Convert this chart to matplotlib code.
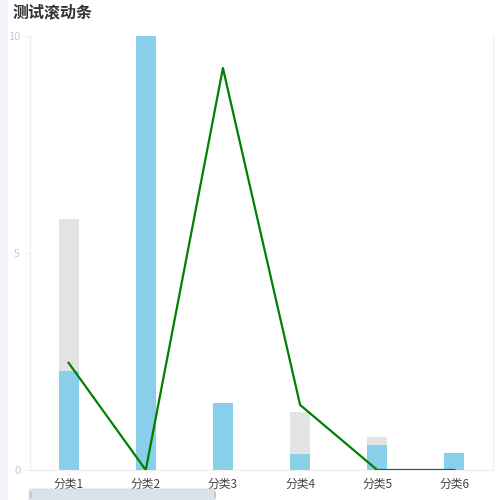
import matplotlib
matplotlib.use("Agg")
import matplotlib.pyplot as plt
from matplotlib.patches import FancyBboxPatch, Rectangle

plt.rcParams['font.family'] = ['Noto Sans CJK SC', 'DejaVu Sans']

title = "测试滚动条"
categories = ["分类1", "分类2", "分类3", "分类4", "分类5", "分类6"]
back_values = [5.78, 10, 1.54, 1.34, 0.76, 0.39]   # gray bars behind
bar_values = [2.28, 10, 1.54, 0.37, 0.58, 0.39]    # blue bars
line_values = [2.47, 0, 9.26, 1.5, 0, 0]           # green line
y_ticks = [0, 5, 10]

W, H = 500, 500
fig = plt.figure(figsize=(5, 5), dpi=100)
fig.patch.set_facecolor("#f3f4f9")

# white card
card = FancyBboxPatch((8 / W, -0.05), 1.1, 1.1, boxstyle="round,pad=0,rounding_size=0.015",
                      transform=fig.transFigure, facecolor="white", edgecolor="none", zorder=0)
fig.add_artist(card)

ax = fig.add_axes([30 / W, 30 / H, 463 / W, 434 / H])
ax.set_facecolor("none")

x = list(range(len(categories)))
ax.bar(x, back_values, width=0.26, color="#e3e3e3", zorder=2)
ax.bar(x, bar_values, width=0.26, color="#89cfeb", zorder=3)
ax.plot(x, line_values, color="#008000", linewidth=1.6, zorder=4)

ax.set_xlim(-0.5, len(categories) - 0.5)
ax.set_ylim(0, 10)
ax.set_yticks(y_ticks)
ax.set_yticklabels([str(t) for t in y_ticks], fontsize=8, color="#c8c8c8")
ax.set_xticks(x)
ax.set_xticklabels(categories, fontsize=8.5, color="#444444")
ax.tick_params(axis="y", length=4, width=0.8, color="#f0f0f0", pad=3)
ax.tick_params(axis="x", length=4, width=0.8, color="#f0f0f0", pad=2)

for side in ["left", "bottom", "right"]:
    ax.spines[side].set_color("#f0f0f0")
    ax.spines[side].set_linewidth(1)
ax.spines["top"].set_visible(False)

fig.text(13 / W, 1 - 12 / H, title, fontsize=11.5, fontweight="bold", color="#333333",
         ha="left", va="center")

# scroll slider at the bottom
slider = FancyBboxPatch((29 / W, -0.01), 186 / W, 11 / H + 0.01,
                        boxstyle="round,pad=0,rounding_size=0.004",
                        transform=fig.transFigure, facecolor="#dce2eb",
                        edgecolor="#d0d6e0", linewidth=0.5)
fig.add_artist(slider)
for hx in (30, 214):
    fig.add_artist(Rectangle((hx / W - 0.001, 2 / H), 2 / W, 6 / H, transform=fig.transFigure,
                             facecolor="#c2c9d6", edgecolor="none"))

fig.savefig("out.png", dpi=100)
